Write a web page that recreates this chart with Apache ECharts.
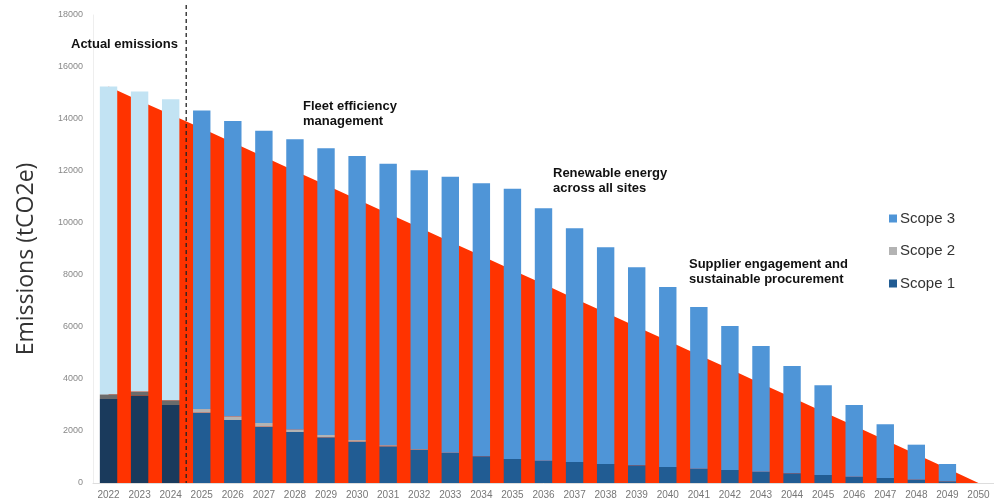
<!DOCTYPE html>
<html>
<head>
<meta charset="utf-8">
<script src="https://cdn.jsdelivr.net/npm/echarts@6/dist/echarts.min.js"></script>
<style>html,body{margin:0;padding:0;background:#fff}#c{width:994px;height:502px}</style>
</head>
<body>
<div id="c"></div>
<script>
const years = ['2022','2023','2024','2025','2026','2027','2028','2029','2030','2031','2032','2033','2034','2035','2036','2037','2038','2039','2040','2041','2042','2043','2044','2045','2046','2047','2048','2049','2050'];
const scope1 = [3230,3360,3000,2705,2423,2167,1962,1756,1590,1410,1282,1154,1026,923,859,808,731,679,615,551,500,436,372,308,244,192,128,64,0];
const scope2 = [180,155,180,140,140,140,100,90,60,40,20,10,0,0,0,0,0,0,0,0,0,0,0,0,0,0,0,0,0];
const scope3 = [11840,11545,11580,11485,11360,11243,11156,11026,10927,10832,10724,10618,10500,10398,9705,8992,8333,7621,6923,6219,5538,4834,4128,3448,2756,2064,1346,667,0];
const target = [15250,14700,14170,13640,13100,12550,12000,11460,10910,10370,9830,9280,8740,8190,7650,7100,6560,6010,5470,4920,4380,3830,3290,2740,2200,1650,1110,560,0];
const actualYears = 3;
const yTicks = {min:0, max:18000, interval:2000};
const annotations = [
  {text:'Actual emissions', x:71, y:44},
  {text:'Fleet efficiency\nmanagement', x:303, y:114},
  {text:'Renewable energy\nacross all sites', x:553, y:181},
  {text:'Supplier engagement and\nsustainable procurement', x:689, y:272}
];

const colFuture = {s1:'#215c93', s2:'#b3b3b3', s3:'#4f95d7'};
const colPast = {s1:'#1a3a5c', s2:'#6b6b6b', s3:'#c2e3f3'};

function styled(arr, key){
  return arr.map((v,i)=> i < actualYears ? {value:v, itemStyle:{color:colPast[key]}} : v);
}

const chart = echarts.init(document.getElementById('c'));
const font = 'Liberation Sans, Arial, sans-serif';
chart.setOption({
  animation:false,
  textStyle:{fontFamily:font},
  grid:{left:93, right:0, top:15, bottom:19, containLabel:false},
  legend:{
    data:['Scope 3','Scope 2','Scope 1'],
    orient:'vertical', left:884, top:206,
    icon:'rect', itemWidth:8, itemHeight:8, itemGap:17.5,
    textStyle:{fontSize:15, color:'#333', fontFamily:font, padding:[0,0,0,-2]}
  },
  xAxis:{
    type:'category', data:years,
    axisLine:{lineStyle:{color:'#dddddd'}},
    axisTick:{show:false},
    axisLabel:{fontSize:10, color:'#777', margin:7, interval:0}
  },
  yAxis:{
    type:'value', min:yTicks.min, max:yTicks.max, interval:yTicks.interval,
    name:'Emissions (tCO2e)', nameLocation:'middle', nameRotate:90, nameGap:55,
    nameTextStyle:{fontSize:23, color:'#333', fontFamily:'Open Sans, sans-serif', padding:[0,0,0,-20]},
    axisLine:{show:true, lineStyle:{color:'#eeeeee'}},
    axisTick:{show:false},
    splitLine:{show:false},
    axisLabel:{fontSize:9, color:'#888', margin:10, formatter:(v)=>String(v)}
  },
  series:[
    {name:'Target', type:'line', data:target, showSymbol:false, symbol:'none',
     lineStyle:{width:0, color:'#ff3300'}, itemStyle:{color:'#ff3300'},
     areaStyle:{color:'#ff3300', opacity:1}, z:1, silent:true},
    {name:'Scope 1', type:'bar', stack:'total', data:styled(scope1,'s1'), barWidth:'56%', itemStyle:{color:colFuture.s1}, z:2},
    {name:'Scope 2', type:'bar', stack:'total', data:styled(scope2,'s2'), barWidth:'56%', itemStyle:{color:colFuture.s2}, z:2},
    {name:'Scope 3', type:'bar', stack:'total', data:styled(scope3,'s3'), barWidth:'56%', itemStyle:{color:colFuture.s3}, z:2}
  ]
});

const xa = chart.convertToPixel({xAxisIndex:0}, years[actualYears-1]);
const xb = chart.convertToPixel({xAxisIndex:0}, years[actualYears]);
const xd = (xa+xb)/2;
const y0 = chart.convertToPixel({yAxisIndex:0}, 0);
const graphics = [{
  type:'line', z:10,
  shape:{x1:xd, y1:5, x2:xd, y2:y0},
  style:{stroke:'#222', lineWidth:1.3, lineDash:[4,3]}
}];
annotations.forEach(a=>{
  graphics.push({type:'text', z:10, x:a.x, y:a.y,
    style:{text:a.text, fill:'#111', font:'bold 13px Liberation Sans, Arial, sans-serif', verticalAlign:'middle', lineHeight:15}});
});
chart.setOption({graphic:graphics});
</script>
</body>
</html>
